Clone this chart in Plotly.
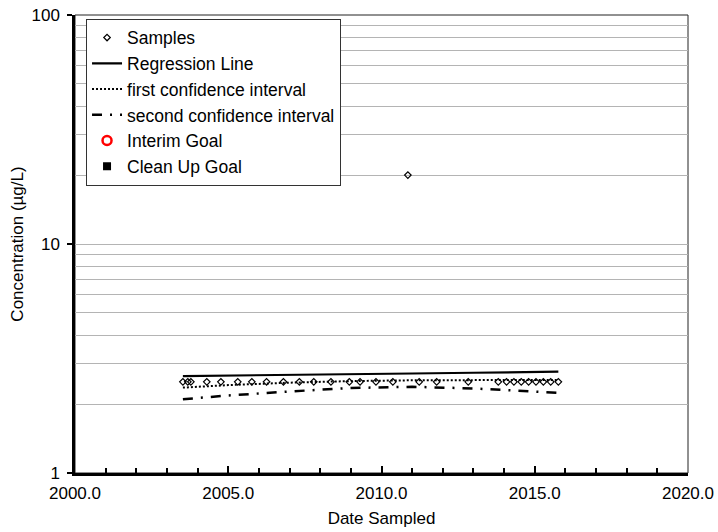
import plotly.graph_objects as go

# Sample results (decimal year, concentration in ug/L)
sample_dates = [2003.52, 2003.68, 2003.78, 2004.30, 2004.76, 2005.31, 2005.77,
                2006.25, 2006.80, 2007.32, 2007.79, 2008.35, 2008.95, 2009.30,
                2009.82, 2010.37, 2010.86, 2011.23, 2011.80, 2012.83, 2013.81,
                2014.08, 2014.32, 2014.56, 2014.80, 2015.04, 2015.28, 2015.52,
                2015.77]
sample_conc = [2.5, 2.5, 2.5, 2.5, 2.5, 2.5, 2.5,
               2.5, 2.5, 2.5, 2.5, 2.5, 2.5, 2.5,
               2.5, 2.5, 20.0, 2.5, 2.5, 2.5, 2.5,
               2.5, 2.5, 2.5, 2.5, 2.5, 2.5, 2.5,
               2.5]

# Regression line and confidence bounds
fit_dates = [2003.52, 2005.0, 2007.0, 2009.0, 2011.0, 2013.0, 2015.77]
regression = [2.65, 2.66, 2.68, 2.70, 2.72, 2.74, 2.77]
first_ci = [2.36, 2.42, 2.48, 2.52, 2.54, 2.55, 2.55]
second_ci = [2.10, 2.18, 2.27, 2.35, 2.38, 2.34, 2.24]

x_ticks = [2000, 2005, 2010, 2015, 2020]
y_ticks = [1, 10, 100]
y_grid = [2, 3, 4, 5, 6, 7, 8, 9, 20, 30, 40, 50, 60, 70, 80, 90]

FONT = "Arial, Liberation Sans, sans-serif"

fig = go.Figure()
fig.add_trace(go.Scatter(
    x=sample_dates, y=sample_conc, mode="markers", name="Samples",
    marker=dict(symbol="diamond-open", size=5, color="black",
                line=dict(width=1.2, color="black"))))
fig.add_trace(go.Scatter(
    x=fit_dates, y=regression, mode="lines", name="Regression Line",
    line=dict(color="black", width=2.2)))
fig.add_trace(go.Scatter(
    x=fit_dates, y=first_ci, mode="lines", name="first confidence interval",
    line=dict(color="black", width=2, dash="2px,2px")))
fig.add_trace(go.Scatter(
    x=fit_dates, y=second_ci, mode="lines", name="second confidence interval",
    line=dict(color="black", width=2.5, dash="10px,8px,2px,8px")))
fig.add_trace(go.Scatter(
    x=[None], y=[None], mode="markers", name="Interim Goal",
    marker=dict(symbol="circle-open", size=9, color="red",
                line=dict(width=2.5, color="red"))))
fig.add_trace(go.Scatter(
    x=[None], y=[None], mode="markers", name="Clean Up Goal",
    marker=dict(symbol="square", size=8, color="black")))

# thin frame on top and right of the plotting area
fig.add_shape(type="rect", xref="paper", yref="paper", x0=0, y0=0, x1=1, y1=1,
              line=dict(color="#222222", width=1), layer="below")

fig.update_layout(
    width=718, height=532,
    margin=dict(l=75, r=30, t=15, b=59),
    paper_bgcolor="white", plot_bgcolor="white",
    font=dict(family=FONT, size=17, color="black"),
    showlegend=True,
    legend=dict(x=0.018, y=0.992, xanchor="left", yanchor="top",
                bgcolor="white", bordercolor="#333333", borderwidth=1,
                font=dict(family=FONT, size=17.5, color="black"),
                tracegroupgap=0),
    xaxis=dict(
        range=[2000, 2020], tickvals=x_ticks, tickformat=".1f",
        automargin=False,
        ticks="inside", ticklen=7, tickwidth=2, tickcolor="black",
        minor=dict(dtick=1, ticks="inside", ticklen=5, tickwidth=1.5,
                   tickcolor="black"),
        ticklabelstandoff=3,
        showline=True, linecolor="black", linewidth=2.5,
        showgrid=False, zeroline=False,
        title=dict(text="Date Sampled", standoff=10,
                   font=dict(family=FONT, size=17)),
        tickfont=dict(family=FONT, size=17)),
    yaxis=dict(
        type="log", range=[0, 2], tickvals=y_ticks, ticktext=["1", "10", "100"],
        automargin=False,
        ticks="outside", ticklen=5, tickwidth=1.5, tickcolor="black",
        ticklabelstandoff=4,
        showline=True, linecolor="black", linewidth=2.5,
        showgrid=True, gridcolor="#b4b4b4", gridwidth=1,
        minor=dict(tickmode="array", tickvals=y_grid, ticks="",
                   showgrid=True, gridcolor="#b4b4b4", gridwidth=1),
        zeroline=False,
        title=dict(text="Concentration (µg/L)", standoff=4,
                   font=dict(family=FONT, size=17)),
        tickfont=dict(family=FONT, size=17)),
)

fig.write_html("out.html")
